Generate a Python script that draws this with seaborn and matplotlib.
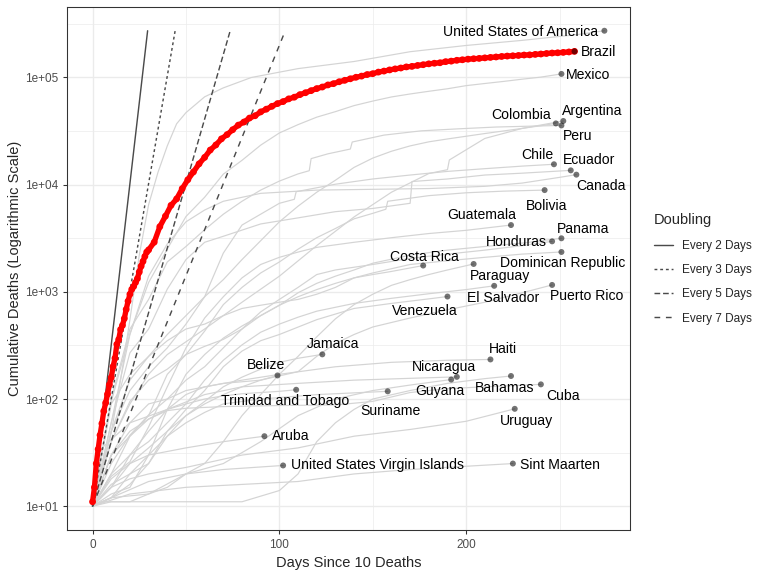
import numpy as np
import pandas as pd
import seaborn as sns
import matplotlib.pyplot as plt
from matplotlib.ticker import FixedLocator, NullFormatter

# Brazil, daily for the first month then every third day
brazil_days = list(range(31)) + list(range(33, 259, 3))
brazil_deaths = [
    11, 15, 25, 34, 46, 59, 77, 92, 111, 136, 159, 201, 240, 324, 359, 445,
    486, 564, 686, 819, 950, 1057, 1124, 1223, 1328, 1532, 1736, 1924, 2141,
    2354, 2462,
    2906, 4057, 5083, 6412, 7367, 9190, 11123, 13149, 15633, 17971, 21048,
    23473, 26754, 29314, 32548, 35930, 38406, 41828, 43959, 47748, 50617,
    53830, 57070, 59594, 63174, 65487, 69184, 72100, 75366, 78772, 81487,
    85238, 87618, 91263, 94104, 97256, 100477, 103026, 106523, 108536,
    112304, 114744, 117665, 120262, 122596, 125502, 126960, 129522, 131625,
    134106, 135793, 137272, 140537, 142058, 144680, 146352, 148228, 149639,
    150689, 152460, 153905, 155403, 157134, 158456, 159477, 160496, 162015,
    162628, 164281, 165658, 167455, 169183, 170115, 171460, 173120, 175270,
]

# other countries: (day, cumulative deaths)
trajectories = {
    "United States of America": [(0, 10), (5, 21), (10, 49), (15, 150), (20, 550), (25, 2200), (30, 6500), (35, 13000), (40, 23000), (45, 37000), (50, 47000), (60, 66000), (70, 80000), (85, 100000), (110, 121000), (140, 141000), (170, 174000), (200, 199000), (230, 222000), (260, 252000), (274, 273000)],
    "Mexico": [(0, 10), (10, 94), (20, 406), (30, 1221), (40, 2507), (50, 5045), (60, 7633), (70, 12545), (80, 16872), (90, 23377), (100, 30366), (110, 36327), (120, 42645), (130, 48012), (140, 54666), (150, 60254), (160, 65816), (170, 70183), (180, 74348), (190, 78492), (200, 83945), (210, 87894), (220, 91895), (230, 96430), (240, 100823), (251, 108000)],
    "Argentina": [(0, 10), (10, 40), (20, 90), (30, 170), (40, 260), (60, 450), (80, 800), (100, 1400), (120, 2700), (140, 5000), (160, 8500), (180, 12700), (190, 13800), (191, 17000), (210, 27000), (230, 33500), (252, 39300)],
    "Colombia": [(0, 10), (10, 50), (20, 150), (30, 250), (40, 400), (50, 600), (60, 900), (70, 1300), (80, 2000), (90, 3000), (100, 4500), (110, 6300), (120, 8500), (130, 11000), (140, 14500), (150, 17700), (160, 20500), (170, 23000), (180, 25100), (190, 26700), (200, 28300), (210, 30000), (220, 31700), (230, 33500), (240, 35500), (248, 37300)],
    "Peru": [(0, 10), (10, 100), (20, 450), (30, 850), (40, 1900), (50, 2650), (60, 3800), (70, 5300), (80, 7000), (90, 8900), (100, 10800), (110, 12600), (116, 13500), (117, 17500), (126, 19400), (138, 21500), (139, 25000), (156, 29000), (176, 31800), (196, 33200), (216, 34500), (236, 35200), (251, 35700)],
    "Chile": [(0, 10), (10, 50), (20, 120), (30, 200), (40, 300), (50, 500), (60, 900), (70, 2300), (80, 4200), (100, 6700), (108, 7300), (109, 8600), (130, 10100), (150, 11300), (170, 12300), (190, 13300), (210, 14100), (230, 14900), (247, 15500)],
    "Ecuador": [(0, 10), (10, 60), (20, 270), (30, 450), (40, 1060), (50, 2000), (60, 2900), (70, 3300), (90, 4300), (110, 4900), (130, 5600), (150, 6000), (170, 6700), (171, 10700), (190, 11300), (210, 12300), (230, 12800), (256, 13600)],
    "Canada": [(0, 10), (10, 60), (20, 400), (30, 1400), (40, 2800), (50, 4500), (60, 5800), (70, 7000), (90, 8300), (120, 8900), (150, 9050), (180, 9200), (210, 9650), (230, 10350), (250, 11700), (259, 12400)],
    "Bolivia": [(0, 10), (10, 30), (20, 45), (30, 70), (40, 170), (50, 260), (60, 430), (70, 760), (80, 1100), (90, 1500), (100, 1900), (110, 2500), (120, 3200), (130, 3900), (140, 4800), (150, 5400), (157, 5900), (158, 7000), (180, 7900), (200, 8400), (220, 8700), (242, 8900)],
    "Guatemala": [(0, 10), (10, 19), (20, 26), (30, 55), (40, 130), (50, 300), (60, 570), (70, 900), (80, 1350), (90, 1800), (100, 2100), (110, 2350), (120, 2600), (140, 2900), (160, 3200), (180, 3500), (200, 3750), (224, 4200)],
    "Panama": [(0, 10), (10, 40), (20, 95), (30, 150), (40, 190), (50, 260), (60, 310), (70, 360), (80, 450), (90, 600), (100, 750), (110, 980), (120, 1200), (130, 1400), (140, 1600), (150, 1850), (170, 2200), (190, 2450), (210, 2650), (230, 2850), (251, 3160)],
    "Honduras": [(0, 10), (10, 25), (20, 46), (30, 71), (40, 100), (50, 150), (60, 200), (70, 300), (80, 450), (90, 650), (100, 850), (110, 1100), (120, 1450), (130, 1600), (150, 1800), (170, 2050), (190, 2250), (210, 2450), (230, 2700), (246, 2960)],
    "Dominican Republic": [(0, 10), (10, 90), (20, 170), (30, 250), (40, 350), (50, 450), (60, 500), (70, 600), (80, 700), (90, 750), (100, 800), (110, 850), (120, 950), (130, 1100), (140, 1350), (150, 1500), (170, 1800), (190, 1950), (210, 2100), (230, 2250), (251, 2355)],
    "Costa Rica": [(0, 10), (10, 13), (20, 15), (30, 30), (40, 80), (50, 170), (60, 260), (70, 370), (80, 480), (90, 600), (100, 750), (110, 900), (120, 1050), (130, 1200), (140, 1350), (150, 1450), (160, 1550), (177, 1760)],
    "Paraguay": [(0, 10), (10, 11), (20, 11), (30, 13), (40, 15), (50, 20), (60, 25), (70, 40), (80, 70), (90, 110), (100, 170), (110, 250), (120, 380), (130, 560), (140, 760), (150, 950), (160, 1150), (170, 1300), (180, 1450), (190, 1600), (204, 1820)],
    "El Salvador": [(0, 10), (10, 15), (20, 30), (30, 40), (40, 60), (50, 90), (60, 150), (70, 230), (80, 320), (90, 420), (100, 500), (110, 580), (120, 660), (140, 780), (160, 870), (180, 960), (200, 1050), (215, 1138)],
    "Puerto Rico": [(0, 10), (10, 30), (20, 60), (30, 90), (40, 100), (50, 120), (70, 140), (90, 150), (110, 180), (120, 250), (130, 330), (140, 400), (150, 470), (170, 570), (190, 680), (210, 800), (230, 980), (246, 1160)],
    "Venezuela": [(0, 10), (10, 12), (20, 20), (30, 25), (40, 50), (50, 80), (60, 120), (70, 200), (80, 280), (90, 350), (100, 400), (120, 550), (140, 700), (160, 780), (180, 860), (190, 904)],
    "Jamaica": [(0, 10), (10, 12), (20, 16), (30, 25), (40, 45), (50, 70), (60, 95), (70, 130), (80, 160), (90, 190), (100, 220), (110, 240), (123, 261)],
    "Haiti": [(0, 10), (10, 20), (20, 30), (30, 50), (40, 80), (50, 110), (60, 130), (80, 150), (100, 170), (130, 200), (160, 220), (190, 230), (213, 234)],
    "Belize": [(0, 10), (10, 15), (20, 25), (30, 35), (40, 50), (50, 70), (60, 90), (70, 110), (80, 130), (90, 150), (99, 166)],
    "Nicaragua": [(0, 10), (5, 35), (20, 60), (40, 80), (60, 110), (80, 130), (110, 140), (140, 150), (170, 156), (195, 161)],
    "Guyana": [(0, 10), (10, 12), (30, 13), (50, 20), (70, 25), (90, 40), (110, 70), (130, 100), (150, 120), (170, 135), (192, 152)],
    "Bahamas": [(0, 10), (5, 11), (80, 11), (100, 14), (110, 20), (120, 40), (130, 60), (140, 80), (150, 100), (170, 120), (190, 140), (210, 155), (224, 164)],
    "Cuba": [(0, 10), (10, 30), (20, 50), (30, 65), (40, 78), (50, 82), (70, 85), (100, 87), (130, 88), (150, 95), (170, 115), (190, 125), (210, 130), (240, 137)],
    "Trinidad and Tobago": [(0, 10), (10, 20), (20, 45), (30, 65), (40, 80), (50, 90), (60, 100), (70, 107), (80, 112), (100, 118), (109, 122)],
    "Suriname": [(0, 10), (10, 16), (20, 20), (30, 30), (40, 45), (50, 60), (60, 75), (70, 90), (90, 100), (120, 110), (158, 118)],
    "Uruguay": [(0, 10), (10, 15), (20, 18), (30, 20), (50, 23), (80, 30), (110, 35), (140, 45), (170, 52), (200, 62), (226, 81)],
    "Aruba": [(0, 10), (10, 18), (20, 25), (30, 30), (50, 35), (70, 40), (92, 45)],
    "United States Virgin Islands": [(0, 10), (10, 12), (30, 17), (50, 20), (70, 22), (102, 24)],
    "Sint Maarten": [(0, 10), (20, 13), (50, 15), (110, 17), (140, 20), (170, 22), (225, 25)],
}

doubling_periods = [2, 3, 5, 7]
doubling_names = ["Every 2 Days", "Every 3 Days", "Every 5 Days", "Every 7 Days"]

rows = [(c, d, v) for c, pts in trajectories.items() for d, v in pts]
df = pd.DataFrame(rows, columns=["country", "day", "deaths"])
brazil = pd.DataFrame({"day": brazil_days, "deaths": brazil_deaths})

ends = df.groupby("country").tail(1).copy()
ends = pd.concat([ends, pd.DataFrame({"country": ["Brazil"], "day": [brazil_days[-1]],
                                      "deaths": [brazil_deaths[-1]]})])

ymax = df.deaths.max()
dbl = pd.DataFrame([(n, d, v) for n, p in zip(doubling_names, doubling_periods)
                    for d, v in [(0, 10), (p * np.log2(ymax / 10), ymax)]],
                   columns=["Doubling", "day", "deaths"])

# label placement (pixels right / down of the point), hand tuned like ggrepel
label_nudge = {
    "United States of America": (-84, 1), "Brazil": (24, 1), "Mexico": (27, 1),
    "Argentina": (29, -10), "Colombia": (-35, -8), "Peru": (16, 11),
    "Chile": (-17, -9), "Ecuador": (18, -10), "Canada": (25, 11),
    "Bolivia": (2, 16), "Guatemala": (-29, -10), "Panama": (22, -9),
    "Honduras": (-36, 1), "Dominican Republic": (1, 11), "Costa Rica": (1, -9),
    "Paraguay": (26, 12), "El Salvador": (9, 12), "Puerto Rico": (35, 11),
    "Venezuela": (-23, 14), "Jamaica": (11, -10), "Belize": (-11, -10),
    "Trinidad and Tobago": (-11, 11), "Aruba": (26, 0),
    "United States Virgin Islands": (94, 0), "Suriname": (3, 20),
    "Nicaragua": (-13, -10), "Guyana": (-11, 11), "Haiti": (12, -10),
    "Bahamas": (-6, 12), "Cuba": (22, 12), "Uruguay": (12, 12),
    "Sint Maarten": (47, 1),
}

sns.set_style("white")
plt.rcParams["font.family"] = ["Liberation Sans", "DejaVu Sans"]

fig = plt.figure(figsize=(8, 6), dpi=96)
ax = fig.add_axes([0.0872, 0.0799, 0.7331, 0.9080])

sns.lineplot(data=df, x="day", y="deaths", units="country", estimator=None,
             color="#d4d4d4", lw=0.9, ax=ax, legend=False, zorder=2)
sns.lineplot(data=dbl, x="day", y="deaths", style="Doubling", color="#4a4a4a",
             dashes={"Every 2 Days": "", "Every 3 Days": (2, 2),
                     "Every 5 Days": (4, 2), "Every 7 Days": (4, 4)},
             lw=1.07, ax=ax, zorder=3)
handles, labels = ax.get_legend_handles_labels()
ax.get_legend().remove()

sns.lineplot(data=brazil, x="day", y="deaths", color="red", lw=4.0, ax=ax,
             legend=False, zorder=4)
sns.scatterplot(data=brazil, x="day", y="deaths", color="red", s=26,
                edgecolor="none", ax=ax, legend=False, zorder=5)
sns.scatterplot(data=ends, x="day", y="deaths", color="black", alpha=0.55,
                s=20, edgecolor="none", ax=ax, legend=False, zorder=6)

for _, r in ends.iterrows():
    dx, dy = label_nudge[r.country]
    ax.annotate(r.country, (r.day, r.deaths), xytext=(dx * 0.75, -dy * 0.75),
                textcoords="offset points", ha="center", va="center",
                fontsize=10.5, color="black", zorder=7)

ax.set_yscale("log")
xr = df.day.max()
ax.set_xlim(-0.05 * xr, 1.05 * xr)
lo, hi = 1.0, np.log10(ymax)
ax.set_ylim(10 ** (lo - 0.05 * (hi - lo)), 10 ** (hi + 0.05 * (hi - lo)))

ax.set_xticks([0, 100, 200])
ax.xaxis.set_minor_locator(FixedLocator([50, 150, 250]))
ax.yaxis.set_major_locator(FixedLocator([1e1, 1e2, 1e3, 1e4, 1e5]))
ax.set_yticklabels(["1e+01", "1e+02", "1e+03", "1e+04", "1e+05"])
ax.yaxis.set_minor_locator(FixedLocator([10 ** (k + 0.5) for k in range(0, 6)]))
ax.yaxis.set_minor_formatter(NullFormatter())
ax.grid(True, which="major", color="#ebebeb", lw=1.0, zorder=0)
ax.grid(True, which="minor", color="#ebebeb", lw=0.5, zorder=0)
ax.set_axisbelow(True)
ax.tick_params(which="major", length=3, width=0.8, color="#333333",
               labelsize=8.8, labelcolor="#4d4d4d", left=True, bottom=True)
ax.tick_params(which="minor", length=0)
for s in ax.spines.values():
    s.set_color("#333333")
    s.set_linewidth(0.8)

ax.set_xlabel("Days Since 10 Deaths", fontsize=11)
ax.set_ylabel("Cumulative Deaths (Logarithmic Scale)", fontsize=11, labelpad=2)

leg = fig.legend(handles, labels, title="Doubling", loc="upper left",
                 bbox_to_anchor=(0.838, 0.648), frameon=False, fontsize=8.8,
                 title_fontsize=11, handlelength=1.6, labelspacing=1.05,
                 handletextpad=0.8)
leg._legend_box.align = "left"

fig.savefig("out.png", dpi=96)
